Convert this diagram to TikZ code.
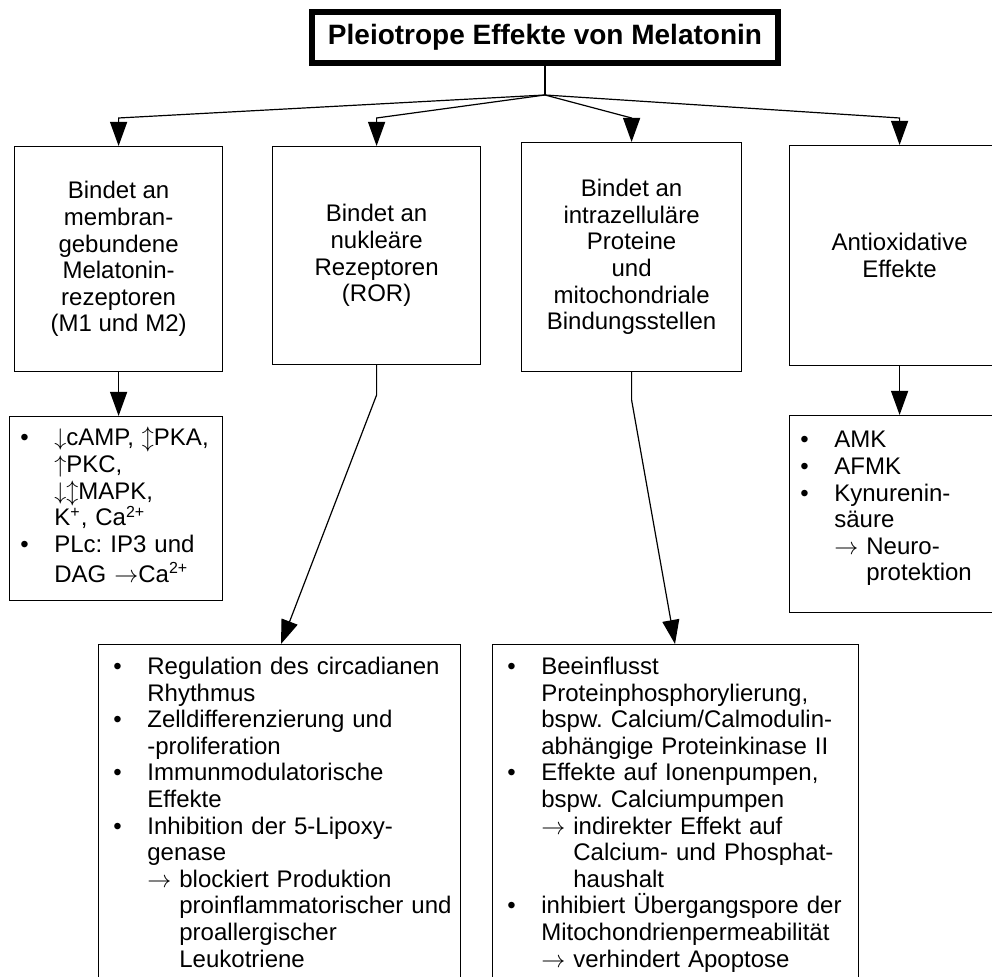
\documentclass[tikz,border=0pt]{standalone}
\usepackage{fontspec}
\setmainfont{Liberation Sans}
\usepackage{tikz}
\usetikzlibrary{arrows.meta,positioning}
\frenchspacing

\newlength{\bhang}
\setlength{\bhang}{17pt}
\newcommand{\bitem}[1]{\par\hangindent=\bhang\hangafter=1\noindent\strut\makebox[\bhang][l]{•}#1\par}
\newcommand{\ra}{\ensuremath{\rightarrow}}
\newcommand{\contind}{\phantom{\ra\ }}

\tikzset{
  box/.style={draw, line width=0.6pt, inner sep=0pt, anchor=north west, align=center,
    font=\fontsize{12}{13.3}\selectfont},
  listbox/.style={draw, line width=0.6pt, inner sep=0pt, anchor=north west},
  listtext/.style={anchor=north west, inner sep=0pt, text width=240pt, align=left,
    font=\fontsize{12}{13.3}\selectfont},
  arr/.style={-{Triangle[width=8.5pt,length=12pt]}, line width=0.6pt},
}

\begin{document}
\begin{tikzpicture}[x=0.5pt,y=-0.5pt]
\useasboundingbox (0,0) rectangle (992,977);

% Title
\node[draw, line width=3pt, minimum width=233pt, minimum height=25.5pt, inner sep=0pt,
  font=\fontsize{14}{16}\selectfont\bfseries] (title) at (545,37.5) {Pleiotrope Effekte von Melatonin};

% First row: ways of acting
\node[box, minimum width=104pt, minimum height=112.5pt] (bind1) at (14,146)
  {Bindet an\\membran-\\gebundene\\Melatonin-\\rezeptoren\\(M1 und M2)};
\node[box, minimum width=104pt, minimum height=109pt] (bind2) at (272,146)
  {Bindet an\\nukleäre\\Rezeptoren\\(ROR)};
\node[box, minimum width=110pt, minimum height=114.5pt] (bind3) at (521,142)
  {Bindet an\\intrazelluläre\\Proteine\\und\\mitochondriale\\Bindungsstellen};
\node[box, minimum width=110pt, minimum height=110pt] (antiox) at (789,145)
  {Antioxidative\\Effekte};

% Second row: frames
\node[listbox, minimum width=106.5pt, minimum height=92pt] (sig1) at (9,416) {};
\node[listbox, minimum width=110pt, minimum height=98.5pt] (anti) at (789,415) {};
\node[listbox, minimum width=181pt, minimum height=180pt] (ror) at (98,644) {};
\node[listbox, minimum width=183pt, minimum height=180pt] (prot) at (492,644) {};

% Second row: lists
\node[listtext, below right=1.5pt and 5.5pt of sig1.north west] (sig1txt) {%
  \bitem{$\downarrow$cAMP, $\updownarrow$PKA,\newline $\uparrow$PKC,\newline $\downarrow\updownarrow$MAPK,\newline K\textsuperscript{+}, Ca\textsuperscript{2+}}
  \bitem{PLc: IP3 und\newline DAG \ra Ca\textsuperscript{2+}}};
\node[listtext, below right=3pt and 5.5pt of anti.north west] (antitxt) {%
  \bitem{AMK}
  \bitem{AFMK}
  \bitem{Kynurenin-\newline säure\newline \ra\ Neuro-\newline \contind protektion}};
\node[listtext, below right=1.75pt and 7.5pt of ror.north west] (rortxt) {%
  \bitem{Regulation des circadianen\newline Rhythmus}
  \bitem{Zelldifferenzierung und\newline -proliferation}
  \bitem{Immunmodulatorische\newline Effekte}
  \bitem{Inhibition der 5-Lipoxy-\newline genase\newline \ra\ blockiert Produktion\newline \contind proinflammatorischer und\newline \contind proallergischer\newline \contind Leukotriene}};
\node[listtext, below right=1.75pt and 7.5pt of prot.north west] (prottxt) {%
  \bitem{Beeinflusst\newline Proteinphosphorylierung,\newline bspw. Calcium/Calmodulin-\newline abhängige Proteinkinase II}
  \bitem{Effekte auf Ionenpumpen,\newline bspw. Calciumpumpen\newline \ra\ indirekter Effekt auf\newline \contind Calcium- und Phosphat-\newline \contind haushalt}
  \bitem{inhibiert Übergangspore der\newline Mitochondrienpermeabilität\newline \ra\ verhindert Apoptose}};

% Connectors
\coordinate (fan) at (545,95);
\coordinate (lvl) at (0,118);
\draw[line width=0.6pt] (title) -- (fan);
\foreach \n in {bind1,bind2,bind3,antiox}
  \draw[arr] (fan) -- (\n.north |- lvl) -- (\n.north);

\draw[arr] (bind1.south) -- (bind1.south |- sig1.north);
\draw[arr] (antiox.south) -- (antiox.south |- anti.north);

\coordinate (rbend) at (377,395);
\coordinate (rend) at (281,0);
\draw[arr] (bind2.south) -- (bind2.south |- rbend) -- (rend |- ror.north);

\coordinate (pbend) at (631,400);
\coordinate (pend) at (675,0);
\draw[arr] (bind3.south) -- (bind3.south |- pbend) -- (pend |- prot.north);

\end{tikzpicture}
\end{document}
